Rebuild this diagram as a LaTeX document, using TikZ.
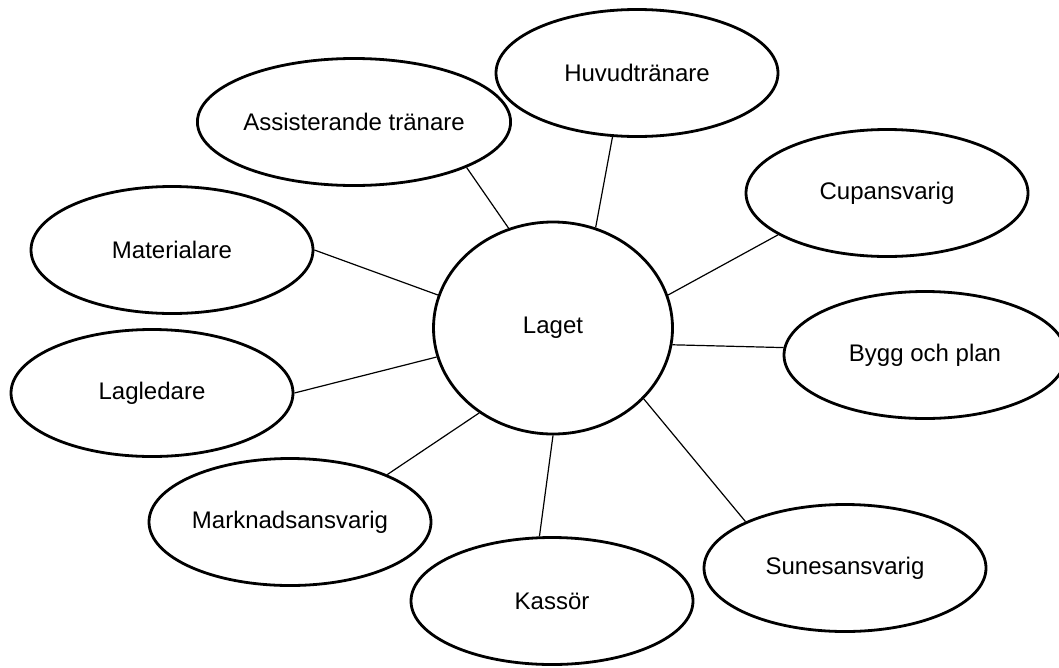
\documentclass[tikz,border=0pt]{standalone}
\usepackage{fontspec}
\setmainfont{Liberation Sans}
\usetikzlibrary{shapes.geometric}

\tikzset{
  bubble/.style={draw, ellipse, line width=2.8pt, inner sep=0pt,
    minimum width=282pt, minimum height=127pt,
    font=\fontsize{24}{28}\selectfont},
  hub/.style={bubble, minimum width=239pt, minimum height=212pt},
  link/.style={line width=1.2pt}
}

\begin{document}
\begin{tikzpicture}[x=1pt,y=-1pt]
  \useasboundingbox (0,0) rectangle (1059,667);

  \node[hub] (laget) at (553,328) {Laget};

  \node[bubble] (huvud)  at (637,73)  {Huvudtränare};
  \node[bubble] (assist) at (354,122) {Assisterande tränare};
  \node[bubble] (cup)    at (887,193) {Cupansvarig};
  \node[bubble] (mater)  at (172,250) {Materialare};
  \node[bubble] (bygg)   at (925,355) {Bygg och plan};
  \node[bubble] (lagl)   at (152,393) {Lagledare};
  \node[bubble] (markn)  at (290,522) {Marknadsansvarig};
  \node[bubble] (sunes)  at (845,568) {Sunesansvarig};
  \node[bubble] (kassor) at (552,601) {Kassör};

  \draw[link] (laget.114) -- (assist.-22);
  \draw[link] (laget.67)  -- (huvud.249);
  \draw[link] (laget.16)  -- (cup.201);
  \draw[link] (laget.-8)  -- (bygg.177);
  \draw[link] (laget.-38) -- (sunes.155);
  \draw[link] (laget.-90) -- (kassor.101);
  \draw[link] (laget.229) -- (markn.26);
  \draw[link] (laget.194) -- (lagl.0);
  \draw[link] (laget.164) -- (mater.0);
\end{tikzpicture}
\end{document}
